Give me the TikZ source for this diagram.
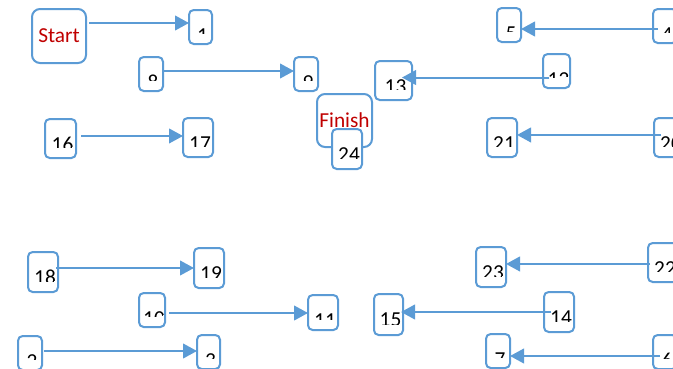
\documentclass[tikz,border=0pt]{standalone}
\usepackage{fontspec}
\setmainfont{Carlito}
\usetikzlibrary{arrows.meta,calc}
\definecolor{bblue}{HTML}{5B9BD5}
\definecolor{dred}{HTML}{C00000}
\tikzset{
 boxbase/.style={draw=bblue, line width=1.5pt, fill=white, inner sep=0pt, outer sep=0pt},
 numbox/.style={boxbase, rounded corners=3.5pt},
 bigbox/.style={boxbase, rounded corners=6pt, font=\fontsize{16}{19}\selectfont, text=dred},
 numtext/.style={anchor=base, inner sep=0pt, font=\fontsize{16}{19}\selectfont, text=black},
 arr/.style={draw=bblue, line width=1.5pt, -{Triangle[length=10.5pt,width=11pt]}},
}
\newcommand\bx[6]{%
 \node[numbox, minimum width={(#4-#2-2)*0.75pt}, minimum height={(#5-#3-2)*0.75pt},
   path picture={
     \begin{scope}
     \clip ([yshift=7.9pt]path picture bounding box.south west) rectangle ([xshift=-0.75pt]path picture bounding box.north east);
     \node[numtext] at ([xshift=1.5pt,yshift=-24.3pt]path picture bounding box.north) {#6};
     \end{scope}
   }] (#1) at ({(#2+#4)/2},{(#3+#5)/2}) {};}
\begin{document}
\begin{tikzpicture}[x=0.75pt,y=-0.75pt]
\useasboundingbox (0,0) rectangle (673,368);
\clip (0,0) rectangle (673,368);
% boxes
\node[bigbox, minimum width={54*0.75pt}, minimum height={54*0.75pt}] (start) at (59,36) {Start};
\bx{n1}{188}{9}{213}{45}{1}
\bx{n8}{138}{56}{164}{92}{8}
\bx{n9}{293}{56}{319}{92}{9}
\bx{n16}{44}{118}{77}{159}{16}
\bx{n17}{182}{117}{214}{158}{17}
\bx{n13}{374}{60}{413}{101}{13}
\bx{n12}{542}{53}{571}{89}{12}
\bx{n5}{496}{7}{522}{43}{5}
\bx{n4}{652}{8}{678}{44}{4}
\bx{n21}{486}{117}{518}{158}{21}
\bx{n20}{653}{117}{685}{158}{20}
\node[bigbox, minimum width={55*0.75pt}, minimum height={53*0.75pt}] (finish) at (344.5,120.5) {Finish};
\bx{n24}{331}{128}{363}{170}{24}
\bx{n18}{27}{251}{59}{293}{18}
\bx{n19}{193}{247}{225}{289}{19}
\bx{n10}{138}{292}{166}{328}{10}
\bx{n11}{307}{294}{339}{331}{11}
\bx{n2}{17}{335}{43}{371}{2}
\bx{n3}{196}{334}{221}{370}{3}
\bx{n15}{373}{293}{404}{336}{15}
\bx{n14}{543}{291}{575}{333}{14}
\bx{n23}{475}{246}{507}{288}{23}
\bx{n22}{647}{242}{679}{283}{22}
\bx{n7}{485}{333}{511}{369}{7}
\bx{n6}{652}{334}{678}{370}{6}
% connectors
\draw[arr, shorten <=2.25pt] ([yshift=9.75pt]start.east) -- ([yshift=9.75pt]start.east -| n1.west);
\draw[arr] ([yshift=2.25pt]n8.east) -- ([yshift=2.25pt]n8.east -| n9.west);
\draw[arr, shorten <=3.75pt] ([yshift=1.9pt]n16.east) -- ([yshift=1.9pt]n16.east -| n17.west);
\draw[arr, shorten <=-4.5pt, shorten >=-7.5pt] ([yshift=-4.9pt]n12.west) -- ([yshift=-4.9pt]n12.west -| n13.east);
\draw[arr, shorten <=-3.75pt] ([yshift=-2.25pt]n4.west) -- ([yshift=-2.25pt]n4.west -| n5.east);
\draw[arr, shorten <=-5.25pt] ([yshift=1.9pt]n20.west) -- ([yshift=1.9pt]n20.west -| n21.east);
\draw[arr, shorten <=-1.5pt] ([yshift=3pt]n18.east) -- ([yshift=3pt]n18.east -| n19.west);
\draw[arr, shorten <=3pt] ([yshift=-2.25pt]n10.east) -- ([yshift=-2.25pt]n10.east -| n11.west);
\draw[arr, shorten <=1.5pt] ([yshift=1.5pt]n2.east) -- ([yshift=1.5pt]n2.east -| n3.west);
\draw[arr, shorten <=-5.25pt, shorten >=-1.5pt] (n14.west) -- (n14.west -| n15.east);
\draw[arr, shorten <=-1.5pt] ([yshift=-1.1pt]n22.west) -- ([yshift=-1.1pt]n22.west -| n23.east);
\draw[arr, shorten <=-5.25pt] ([yshift=-3pt]n6.west) -- ([yshift=-3pt]n6.west -| n7.east);
\end{tikzpicture}
\end{document}
